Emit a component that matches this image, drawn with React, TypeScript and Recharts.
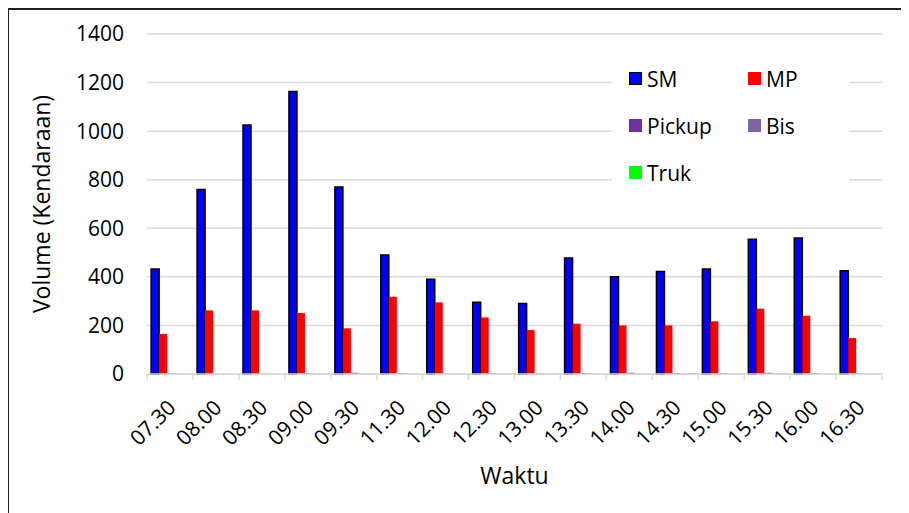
import React from 'react';
import { BarChart, Bar, XAxis, YAxis, CartesianGrid, Legend } from 'recharts';

const times = ['07.30', '08.00', '08.30', '09.00', '09.30', '11.30', '12.00', '12.30', '13.00', '13.30', '14.00', '14.30', '15.00', '15.30', '16.00', '16.30'];
const smValues = [432, 760, 1025, 1163, 770, 490, 390, 295, 290, 478, 400, 422, 432, 555, 560, 425];
const mpValues = [165, 262, 262, 251, 188, 318, 295, 233, 181, 207, 200, 200, 217, 269, 240, 148];
const pickupValues = [2, 1, 1, 3, 5, 3, 2, 3, 2, 3, 5, 4, 3, 5, 4, 2];
const bisValues = [1, 0, 0, 1, 1, 1, 1, 1, 1, 1, 1, 1, 1, 2, 1, 1];
const trukValues = [0, 0, 0, 1, 1, 1, 1, 1, 3, 1, 1, 4, 2, 4, 1, 1];
const yTicks = [0, 200, 400, 600, 800, 1000, 1200, 1400];

const seriesNames = ['SM', 'MP', 'Pickup', 'Bis', 'Truk'];
const seriesColors = ['#0000FF', '#FF0000', '#7030A0', '#8064A2', '#00FF00'];

const data = times.map((t, i) => ({
    time: t,
    SM: smValues[i],
    MP: mpValues[i],
    Pickup: pickupValues[i],
    Bis: bisValues[i],
    Truk: trukValues[i],
}));

const FONT = '"Open Sans", sans-serif';
const FS = 21;
const TITLE_FS = 23;
const CHART_W = 901;
const CHART_H = 505;
const PLOT_H = 340;
const MARGIN = { top: 26, right: 27, left: 0, bottom: 0 };
const Y_AXIS_W = 139;
const X_AXIS_H = CHART_H - MARGIN.top - PLOT_H;
const plotW = CHART_W - MARGIN.left - MARGIN.right - Y_AXIS_W;
const bandW = plotW / times.length;

const TimeTick = ({ x, y, payload, index }: any) => {
    const left = x - bandW / 2;
    const tx = x + 7;
    const ty = y + 35;
    return (
        <g>
            <line x1={left} y1={y} x2={left} y2={y + 6} stroke="#d9d9d9" strokeWidth={1.5} />
            {index === times.length - 1 && (
                <line x1={x + bandW / 2} y1={y} x2={x + bandW / 2} y2={y + 6} stroke="#d9d9d9" strokeWidth={1.5} />
            )}
            <text
                x={tx}
                y={ty}
                textAnchor="end"
                transform={`rotate(-45, ${tx}, ${ty})`}
                fill="#000"
                fontFamily={FONT}
                fontSize={FS}
            >
                {payload.value}
            </text>
        </g>
    );
};

const LegendBox = () => (
    <div
        style={{
            background: '#fff',
            display: 'grid',
            gridTemplateColumns: '119px 100px',
            gridAutoRows: '47px',
            paddingLeft: 17,
            fontFamily: FONT,
            fontSize: FS,
            color: '#000',
        }}
    >
        {seriesNames.map((name, i) => (
            <div key={name} style={{ display: 'flex', alignItems: 'center' }}>
                <span
                    style={{
                        display: 'inline-block',
                        width: 13,
                        height: 13,
                        boxSizing: 'border-box',
                        background: seriesColors[i],
                        border: i === 0 ? '1.5px solid #000' : 'none',
                        marginRight: 5,
                    }}
                />
                <span>{name}</span>
            </div>
        ))}
    </div>
);

export default function App() {
    return (
        <div style={{ position: 'relative', width: CHART_W, height: CHART_H }}>
            <BarChart
                width={CHART_W}
                height={CHART_H}
                data={data}
                margin={MARGIN}
                barCategoryGap="9%"
                barGap={0}
                style={{ background: '#fff' }}
            >
                <CartesianGrid vertical={false} stroke="#d9d9d9" strokeWidth={1.5} />
                <XAxis
                    dataKey="time"
                    height={X_AXIS_H}
                    tickLine={false}
                    tickSize={0}
                    tickMargin={0}
                    interval={0}
                    axisLine={{ stroke: '#d9d9d9', strokeWidth: 1.5 }}
                    tick={<TimeTick />}
                    label={{ value: 'Waktu', position: 'insideBottom', offset: 29, fill: '#000', fontFamily: FONT, fontSize: TITLE_FS }}
                />
                <YAxis
                    width={Y_AXIS_W}
                    domain={[0, 1400]}
                    ticks={yTicks}
                    interval={0}
                    axisLine={false}
                    tickLine={false}
                    tickSize={0}
                    tickMargin={23}
                    tick={{ fill: '#000', fontFamily: FONT, fontSize: FS }}
                    label={{
                        value: 'Volume (Kendaraan)',
                        angle: -90,
                        position: 'insideLeft',
                        offset: 34,
                        fill: '#000',
                        fontFamily: FONT,
                        fontSize: TITLE_FS,
                        style: { textAnchor: 'middle' },
                    }}
                />
                <Legend
                    layout="vertical"
                    align="center"
                    verticalAlign="middle"
                    content={<LegendBox />}
                    wrapperStyle={{ left: 604, top: 47, width: 237, height: 141 }}
                />
                {seriesNames.map((name, i) => (
                    <Bar
                        key={name}
                        dataKey={name}
                        fill={seriesColors[i]}
                        stroke={i === 0 ? '#000' : 'none'}
                        strokeWidth={i === 0 ? 1.5 : 0}
                        isAnimationActive={false}
                    />
                ))}
            </BarChart>
            <div
                style={{
                    position: 'absolute',
                    left: 0,
                    top: 0,
                    width: CHART_W,
                    height: CHART_H,
                    boxSizing: 'border-box',
                    borderTop: '2px solid #222',
                    borderLeft: '1px solid #222',
                    pointerEvents: 'none',
                }}
            />
        </div>
    );
}
